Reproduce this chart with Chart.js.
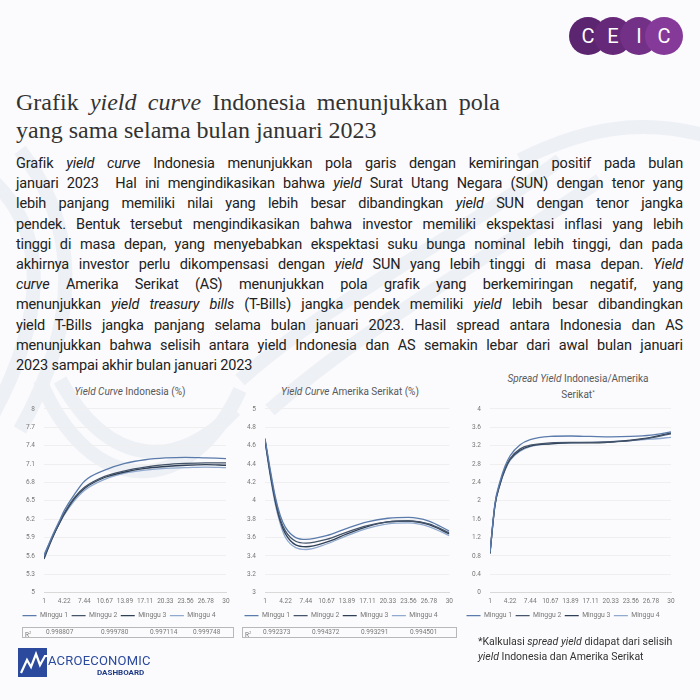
<!DOCTYPE html>
<html>
<head>
<meta charset="utf-8">
<script src="https://cdn.jsdelivr.net/npm/chart.js@4.4.1/dist/chart.umd.min.js"></script>
<style>
  body { margin: 0; width: 700px; height: 700px; background: #fbfbfd; position: relative; overflow: hidden; font-family: Roboto, sans-serif; }
  .abs { position: absolute; }
  #bg { position: absolute; left: 0; top: 0; }
  .logo-c { position: absolute; width: 38px; height: 38px; border-radius: 50%; color: #fff; font: 20px Roboto, sans-serif; text-align: center; line-height: 38px; }
  #title { left: 16px; top: 88px; width: 484px; font-family: 'Liberation Serif', serif; font-size: 24px; line-height: 28px; color: #333; }
  #title div:first-child { text-align: justify; text-align-last: justify; }
  #para { left: 16px; top: 154px; width: 667px; font-size: 14.5px; line-height: 20.2px; color: #222; letter-spacing: -0.15px; }
  #para div { white-space: nowrap; text-align: justify; text-align-last: justify; }
  #para div.last { text-align-last: left; }
  .ctitle { font-size: 10px; color: #595959; text-align: center; line-height: 13px; }
  .box { position: absolute; }
  .r2 { border: 1px solid #b8b8b8; height: 9px; font-size: 6.5px; color: #777; line-height: 9px; }
  .r2 span { position: absolute; top: 0; }
  #note { left: 478px; top: 634px; font-size: 10.5px; line-height: 15px; color: #333; }
</style>
</head>
<body>
<svg id="bg" width="700" height="700">
  <g fill="none" stroke="#e8ecf3" stroke-width="14" opacity="0.7">
    <path d="M-20 170 C 60 230, 40 330, -10 420"/>
    <path d="M20 150 C 90 240, 70 340, 20 430"/>
    <path d="M240 380 C 330 300, 440 250, 560 160"/>
    <path d="M270 410 C 360 330, 470 270, 600 180"/>
    <path d="M40 380 C 90 500, 190 500, 240 390"/>
    <path d="M60 380 C 110 470, 180 470, 235 410"/>
    <path d="M520 160 C 600 120, 660 120, 720 140"/>
  </g>
</svg>

<div class="logo-c" style="left:569px;top:17px;background:#5b2570;">C</div>
<div class="logo-c" style="left:594px;top:17px;background:#66297a;">E</div>
<div class="logo-c" style="left:620px;top:17px;background:#733087;">I</div>
<div class="logo-c" style="left:645px;top:17px;background:#853a9a;">C</div>

<div id="title" class="abs">
  <div>Grafik <i>yield curve</i> Indonesia menunjukkan pola</div>
  <div>yang sama selama bulan januari 2023</div>
</div>

<div id="para" class="abs">
  <div>Grafik <i>yield curve</i> Indonesia menunjukkan pola garis dengan kemiringan positif pada bulan</div>
  <div>januari 2023&nbsp; Hal ini mengindikasikan bahwa <i>yield</i> Surat Utang Negara (SUN) dengan tenor yang</div>
  <div>lebih panjang memiliki nilai yang lebih besar dibandingkan <i>yield</i> SUN dengan tenor jangka</div>
  <div>pendek. Bentuk tersebut mengindikasikan bahwa investor memiliki ekspektasi inflasi yang lebih</div>
  <div>tinggi di masa depan, yang menyebabkan ekspektasi suku bunga nominal lebih tinggi, dan pada</div>
  <div>akhirnya investor perlu dikompensasi dengan <i>yield</i> SUN yang lebih tinggi di masa depan. <i>Yield</i></div>
  <div><i>curve</i> Amerika Serikat (AS) menunjukkan pola grafik yang berkemiringan negatif, yang</div>
  <div>menunjukkan <i>yield treasury bills</i> (T-Bills) jangka pendek memiliki <i>yield</i> lebih besar dibandingkan</div>
  <div>yield T-Bills jangka panjang selama bulan januari 2023. Hasil spread antara Indonesia dan AS</div>
  <div>menunjukkan bahwa selisih antara yield Indonesia dan AS semakin lebar dari awal bulan januari</div>
  <div class="last">2023 sampai akhir bulan januari 2023</div>
</div>

<div class="abs ctitle" style="left:20px;top:385px;width:220px;"><i>Yield Curve</i> Indonesia (%)</div>
<div class="abs ctitle" style="left:240px;top:385px;width:220px;"><i>Yield Curve</i> Amerika Serikat (%)</div>
<div class="abs ctitle" style="left:468px;top:372px;width:220px;"><i>Spread Yield</i> Indonesia/Amerika<br>Serikat<sup style="font-size:6px">*</sup></div>

<div class="box" style="left:12px;top:396px;width:224px;height:233px;"><canvas id="c1"></canvas></div>
<div class="box" style="left:232px;top:396px;width:226px;height:233px;"><canvas id="c2"></canvas></div>
<div class="box" style="left:455px;top:396px;width:226px;height:233px;"><canvas id="c3"></canvas></div>

<div id="r2a" class="abs r2" style="left:22px;top:627px;width:210px;"></div>
<div id="r2b" class="abs r2" style="left:242px;top:627px;width:213px;"></div>

<div id="note" class="abs">*Kalkulasi <i>spread yield</i> didapat dari selisih<br><i>yield</i> Indonesia dan Amerika Serikat</div>

<svg class="abs" style="left:18px;top:648px;" width="140" height="32">
  <rect x="0" y="0" width="29" height="29" fill="#2b4a9e"/>
  <polyline points="3,25 9,12 13,19 18,6 22,17 27,8 29,8" fill="none" stroke="#fff" stroke-width="2.2"/>
  <text x="30" y="17" font-family="Roboto, sans-serif" font-size="13" fill="#2b4a9e" letter-spacing="0.2">ACROECONOMIC</text>
  <text x="79" y="27" font-family="Roboto, sans-serif" font-size="8" font-weight="bold" fill="#1f3a86">DASHBOARD</text>
</svg>

<script>
// tenor (tahun) yang dibaca dari grafik
const tenor = [1, 1.8, 2.6, 3.4, 4.22, 5.83, 7.44, 10.67, 13.89, 17.11, 20.33, 23.56, 26.78, 30];
const tickValues = [1, 4.22, 7.44, 10.67, 13.89, 17.11, 20.33, 23.56, 26.78, 30];
const tickLabels = ['1', '4.22', '7.44', '10.67', '13.89', '17.11', '20.33', '23.56', '26.78', '30'];
const weeks = ['Minggu 1', 'Minggu 2', 'Minggu 3', 'Minggu 4'];
const weekColors = ['#5a7bab', '#44546a', '#2f3f55', '#8fa9cf'];

// yield curve Indonesia (%)
const idM1 = [5.60, 5.80, 5.99, 6.16, 6.34, 6.60, 6.82, 7.00, 7.11, 7.17, 7.20, 7.21, 7.20, 7.19];
const idM2 = [5.57, 5.78, 5.96, 6.13, 6.30, 6.55, 6.72, 6.90, 6.99, 7.05, 7.09, 7.11, 7.12, 7.12];
const idM3 = [5.55, 5.76, 5.95, 6.12, 6.28, 6.53, 6.70, 6.88, 6.97, 7.03, 7.06, 7.08, 7.09, 7.08];
const idM4 = [5.62, 5.80, 5.97, 6.12, 6.27, 6.50, 6.67, 6.85, 6.95, 7.00, 7.03, 7.04, 7.05, 7.04];

// yield curve Amerika Serikat (%)
const usM1 = [4.68, 4.35, 4.05, 3.84, 3.71, 3.60, 3.58, 3.62, 3.70, 3.77, 3.81, 3.82, 3.78, 3.67];
const usM2 = [4.67, 4.32, 4.02, 3.80, 3.67, 3.56, 3.54, 3.58, 3.66, 3.73, 3.77, 3.78, 3.75, 3.65];
const usM3 = [4.66, 4.30, 4.00, 3.78, 3.64, 3.52, 3.50, 3.55, 3.64, 3.72, 3.77, 3.78, 3.74, 3.64];
const usM4 = [4.65, 4.28, 3.97, 3.75, 3.60, 3.49, 3.47, 3.53, 3.62, 3.70, 3.75, 3.76, 3.72, 3.62];

// spread yield Indonesia - AS
const spM1 = [0.88, 1.95, 2.42, 2.75, 2.98, 3.22, 3.33, 3.40, 3.41, 3.40, 3.39, 3.40, 3.43, 3.50];
const spM2 = [0.86, 1.92, 2.38, 2.70, 2.92, 3.13, 3.21, 3.26, 3.27, 3.27, 3.28, 3.31, 3.37, 3.46];
const spM3 = [0.85, 1.90, 2.36, 2.68, 2.90, 3.10, 3.19, 3.24, 3.26, 3.26, 3.28, 3.32, 3.38, 3.48];
const spM4 = [0.87, 1.90, 2.35, 2.66, 2.88, 3.08, 3.18, 3.24, 3.26, 3.27, 3.29, 3.31, 3.34, 3.38];

const r2Indonesia = ['0.998807', '0.999780', '0.997114', '0.999748'];
const r2Amerika = ['0.992373', '0.994372', '0.993291', '0.994501'];

function makeChart(id, series, yMin, yMax, step, yWidth, padTop, padRight) {
  const ctx = document.getElementById(id).getContext('2d');
  return new Chart(ctx, {
    type: 'line',
    data: {
      datasets: series.map((s, i) => ({
        label: weeks[i],
        data: tenor.map((t, j) => ({ x: t, y: s[j] })),
        borderColor: weekColors[i],
        backgroundColor: weekColors[i],
        borderWidth: 1.3,
        pointRadius: 0,
        cubicInterpolationMode: 'monotone',
        fill: false,
      })),
    },
    options: {
      responsive: true,
      maintainAspectRatio: false,
      animation: false,
      layout: { padding: { top: padTop, right: padRight, left: 0, bottom: 0 } },
      plugins: {
        tooltip: { enabled: false },
        legend: {
          position: 'bottom',
          labels: {
            usePointStyle: true,
            pointStyle: 'line',
            pointStyleWidth: 14,
            boxHeight: 7,
            padding: 3.5,
            color: '#777',
            font: { size: 6.8, family: 'Roboto' },
          },
        },
      },
      scales: {
        x: {
          type: 'linear',
          min: 1,
          max: 30,
          afterBuildTicks: (scale) => {
            scale.ticks = tickValues.map((v) => ({ value: v }));
          },
          afterFit: (scale) => { scale.height = 16; },
          grid: { display: false, drawTicks: false },
          border: { color: '#d9d9d9' },
          ticks: {
            autoSkip: false,
            maxRotation: 0,
            padding: 5,
            color: '#777',
            font: { size: 6.5, family: 'Roboto' },
            callback: (v, i) => tickLabels[i],
          },
        },
        y: {
          min: yMin,
          max: yMax,
          afterFit: (scale) => { scale.width = yWidth; },
          grid: { color: '#efefef', drawTicks: false },
          border: { display: false },
          ticks: {
            stepSize: step,
            padding: 9,
            color: '#777',
            font: { size: 6.5, family: 'Roboto' },
            callback: (v) => String(+v.toFixed(1)),
          },
        },
      },
    },
  });
}

makeChart('c1', [idM1, idM2, idM3, idM4], 5, 8, 0.3, 32, 8, 10);
makeChart('c2', [usM1, usM2, usM3, usM4], 3, 5, 0.2, 33, 8, 8);
makeChart('c3', [spM1, spM2, spM3, spM4], 0, 4, 0.4, 35, 12, 10);

function fillR2(id, values, centers) {
  const box = document.getElementById(id);
  let html = '<span style="left:2px">R<sup style="font-size:4px">2</sup></span>';
  values.forEach((v, i) => {
    html += `<span style="left:${centers[i] - 13}px;width:26px;text-align:center">${v}</span>`;
  });
  box.innerHTML = html;
}
fillR2('r2a', r2Indonesia, [36, 91, 140, 183]);
fillR2('r2b', r2Amerika, [33, 82, 131, 180]);
</script>
</body>
</html>
